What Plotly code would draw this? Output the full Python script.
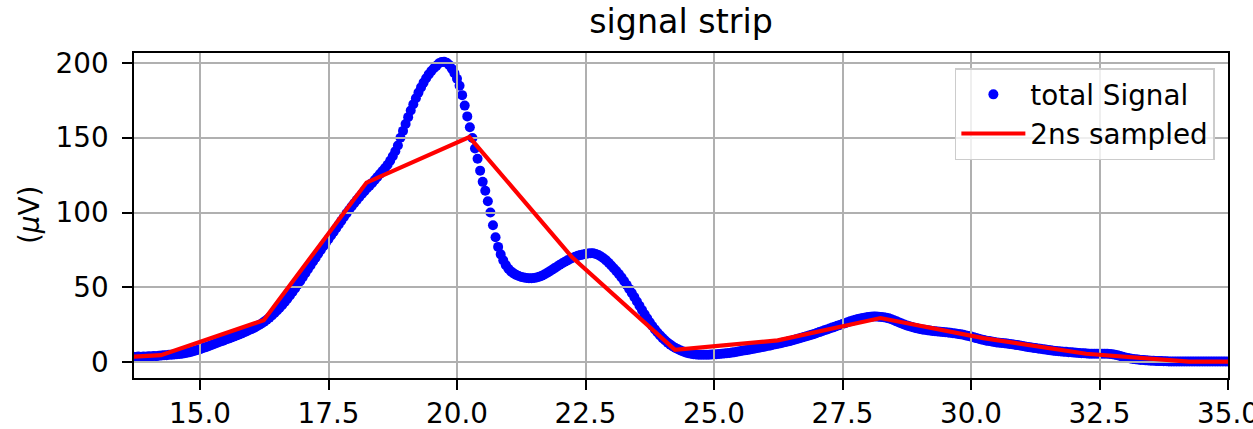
import numpy as np
import plotly.graph_objects as go

# ---------------- data ----------------
# total signal, sampled every 0.05 ns starting at 13.60 ns (values in µV)
t_start_ns = 13.60
t_step_ns = 0.05
signal_uV = [
    3.4, 3.2, 3.5, 3.3, 3.6, 3.4, 3.7, 3.5, 3.8, 3.7, 4.0, 3.9, 4.2, 4.3, 4.5, 4.6, 4.8, 4.9, 5.1, 5.2,
    5.3, 5.6, 5.9, 6.2, 6.6, 7.0, 7.5, 8.0, 8.6, 9.2, 9.8, 10.4, 11.0, 11.7, 12.4, 13.0, 13.7, 14.3, 15.0, 15.6,
    16.3, 16.9, 17.6, 18.3, 19.0, 19.7, 20.4, 21.2, 22.0, 22.8, 23.7, 24.7, 25.8, 27.0, 28.3, 29.7, 31.2, 32.8, 34.5, 36.3,
    38.2, 40.2, 42.3, 44.5, 46.8, 49.2, 51.7, 54.2, 56.8, 59.4, 62.0, 64.6, 67.2, 69.8, 72.4, 74.9, 77.4, 79.8, 82.2, 84.6,
    87.0, 89.5, 92.0, 94.5, 97.0, 99.4, 101.7, 104.0, 106.2, 108.3, 110.4, 112.4, 114.3, 116.2, 118.0, 119.8, 121.8, 123.8, 125.8, 127.8,
    129.8, 132.0, 134.6, 137.6, 141.0, 144.8, 150.0, 154.6, 159.2, 163.8, 168.2, 172.4, 176.4, 180.2, 183.7, 186.9, 189.8, 192.4, 194.6, 196.5,
    198.1, 199.8, 200.6, 200.8, 200.2, 198.6, 196.2, 193.2, 189.5, 184.8, 178.5, 171.5, 164.3, 157.0, 149.8, 142.8, 136.0, 128.0, 120.5, 114.5,
    107.5, 100.0, 91.5, 83.5, 77.0, 72.0, 68.0, 64.8, 62.4, 60.6, 59.3, 58.3, 57.5, 56.9, 56.5, 56.2, 56.0, 56.0, 56.2, 56.5,
    57.0, 57.7, 58.5, 59.5, 60.6, 61.7, 62.8, 63.9, 65.0, 66.1, 67.1, 68.0, 68.9, 69.7, 70.4, 71.0, 71.5, 71.9, 72.3, 72.6,
    72.8, 72.8, 72.3, 71.6, 70.6, 69.4, 68.0, 66.4, 64.6, 62.7, 60.8, 58.8, 56.6, 54.2, 51.6, 48.9, 46.2, 43.4, 40.5, 37.6,
    34.7, 31.9, 29.2, 26.6, 24.1, 21.8, 19.7, 17.8, 16.0, 14.4, 12.9, 11.6, 10.4, 9.4, 8.5, 7.7, 7.0, 6.4, 5.9, 5.5,
    5.2, 5.0, 4.9, 4.8, 4.8, 4.8, 4.9, 5.0, 5.1, 5.2, 5.3, 5.5, 5.7, 5.9, 6.1, 6.3, 6.6, 6.9, 7.2, 7.5,
    7.8, 8.1, 8.4, 8.7, 9.0, 9.4, 9.7, 10.1, 10.4, 10.8, 11.1, 11.5, 11.9, 12.2, 12.6, 13.0, 13.4, 13.8, 14.3, 14.7,
    15.2, 15.7, 16.2, 16.7, 17.2, 17.7, 18.3, 18.8, 19.4, 20.0, 20.6, 21.2, 21.8, 22.4, 23.0, 23.6, 24.2, 24.8, 25.4, 26.0,
    26.6, 27.2, 27.7, 28.2, 28.7, 29.1, 29.5, 29.8, 30.1, 30.3, 30.4, 30.4, 30.3, 30.1, 29.9, 29.6, 29.2, 28.6, 27.9, 27.2,
    26.5, 25.8, 25.1, 24.5, 23.9, 23.4, 22.9, 22.5, 22.1, 21.8, 21.5, 21.2, 21.0, 20.8, 20.6, 20.4, 20.3, 20.1, 19.9, 19.7,
    19.5, 19.3, 19.1, 18.8, 18.5, 18.2, 17.8, 17.4, 17.0, 16.5, 16.0, 15.5, 15.1, 14.7, 14.3, 14.0, 13.7, 13.4, 13.1, 12.9,
    12.7, 12.5, 12.3, 12.1, 11.9, 11.6, 11.3, 11.0, 10.7, 10.4, 10.1, 9.8, 9.5, 9.3, 9.1, 8.8, 8.6, 8.3, 8.1, 7.8,
    7.6, 7.4, 7.2, 7.1, 6.9, 6.8, 6.6, 6.5, 6.3, 6.2, 6.0, 5.9, 5.8, 5.7, 5.6, 5.6, 5.6, 5.6, 5.6, 5.6,
    5.5, 5.5, 5.4, 5.2, 4.9, 4.5, 4.0, 3.5, 3.0, 2.6, 2.3, 2.0, 1.8, 1.6, 1.4, 1.3, 1.1, 1.0, 0.9, 0.8,
    0.7, 0.6, 0.6, 0.5, 0.5, 0.4, 0.4, 0.4, 0.3, 0.3, 0.3, 0.3, 0.3, 0.3, 0.3, 0.3, 0.3, 0.3, 0.3, 0.3,
    0.3, 0.3, 0.3, 0.3, 0.3, 0.3, 0.3, 0.3, 0.3, 0.3, 0.3,
]
t_ns = np.round(t_start_ns + t_step_ns * np.arange(len(signal_uV)), 2)

# 2 ns sampled signal
sampled_t_ns = [12.24, 14.24, 16.24, 18.24, 20.24, 22.24, 24.24, 26.24, 28.24, 30.24, 32.24, 34.24, 36.24]
sampled_uV = [1.0, 4.6, 28.0, 120.0, 150.5, 70.0, 8.2, 14.5, 29.4, 16.0, 5.5, 0.3, 0.3]

x_tickvals = [15.0, 17.5, 20.0, 22.5, 25.0, 27.5, 30.0, 32.5, 35.0]
x_ticktext = ["15.0", "17.5", "20.0", "22.5", "25.0", "27.5", "30.0", "32.5", "35.0"]
y_tickvals = [0, 50, 100, 150, 200]
y_ticktext = ["0", "50", "100", "150", "200"]

X_RANGE = [13.716, 35.0]
Y_RANGE = [-10.7, 206.7]

FONT = "DejaVu Sans"
TICK_SIZE = 27.8
TITLE_SIZE = 33.3

fig = go.Figure()

# scatter lives in the lower subplot so that the grid (upper subplot) is drawn over it
fig.add_trace(go.Scatter(
    x=t_ns, y=signal_uV, mode="markers", name="total Signal",
    marker=dict(color="#0000ff", size=10, line=dict(width=0)),
    xaxis="x", yaxis="y", hoverinfo="skip",
))
fig.add_trace(go.Scatter(
    x=sampled_t_ns, y=sampled_uV, mode="lines", name="2ns sampled",
    line=dict(color="#ff0000", width=4.2),
    xaxis="x2", yaxis="y2", hoverinfo="skip",
))

hidden_axis = dict(domain=[0, 1], showgrid=False, showticklabels=False, ticks="",
                   showline=False, zeroline=False, automargin=False)

axis_common = dict(
    domain=[0, 1], showgrid=True, gridcolor="#b0b0b0", gridwidth=2.2,
    zeroline=False, showline=True, linecolor="black", linewidth=2.2, mirror=True,
    ticks="outside", ticklen=9.7, tickwidth=2.2, tickcolor="black",
    tickfont=dict(family=FONT, size=TICK_SIZE, color="black"),
    automargin=False, ticklabeloverflow="allow",
)

fig.update_layout(
    width=1253, height=429,
    margin=dict(l=134, r=25, t=53, b=51, pad=0),
    paper_bgcolor="white", plot_bgcolor="rgba(0,0,0,0)",
    font=dict(family=FONT, color="black"),
    xaxis=dict(anchor="y", range=X_RANGE, **hidden_axis),
    yaxis=dict(anchor="x", range=Y_RANGE, **hidden_axis),
    xaxis2=dict(anchor="y2", range=X_RANGE, tickmode="array", tickvals=x_tickvals,
                ticktext=x_ticktext, **axis_common),
    yaxis2=dict(anchor="x2", range=Y_RANGE, tickmode="array", tickvals=y_tickvals,
                ticktext=y_ticktext, ticklabelstandoff=8, **axis_common),
    title=dict(text="signal strip", x=0.5, xref="paper", xanchor="center",
               y=1 - 21.8 / 429, yref="container", yanchor="middle",
               font=dict(family=FONT, size=TITLE_SIZE, color="black")),
    legend=dict(x=0.988, xanchor="right", y=0.953, yanchor="top",
                bgcolor="rgba(255,255,255,0.8)", bordercolor="#cccccc", borderwidth=1.5,
                font=dict(family=FONT, size=TICK_SIZE, color="black"),
                itemwidth=64),
    annotations=[dict(text="(<i>μ</i>V)", textangle=-90, xref="paper", yref="paper",
                      x=(29.5 - 134) / 1094, y=0.5, xanchor="center", yanchor="middle",
                      showarrow=False, font=dict(family=FONT, size=TICK_SIZE, color="black"))],
    showlegend=True,
)

fig.write_html("out.html")
